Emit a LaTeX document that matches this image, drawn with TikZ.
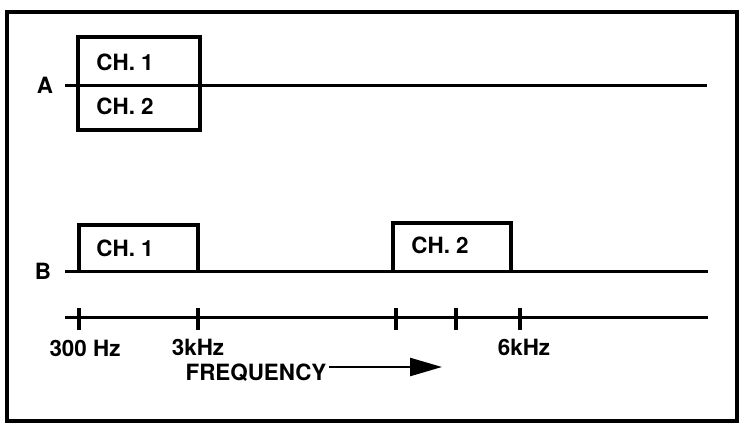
\documentclass[tikz,border=0pt]{standalone}
\usepackage{fontspec}
\setmainfont{TeX Gyre Heros}
\usepackage{tikz}
\usetikzlibrary{arrows.meta,positioning}
\tikzset{
  lbl/.style={font=\fontsize{11.2}{13}\selectfont\bfseries, inner sep=1pt},
  band/.style={draw, line width=1.6pt},
  rail/.style={draw, line width=1.5pt},
  tick/.style={line width=1.6pt},
  farrow/.style={line width=1.3pt, -{Triangle[length=16pt, width=9pt]}}
}
\begin{document}
\begin{tikzpicture}[x=0.5pt, y=-0.5pt]
\useasboundingbox (0,0) rectangle (743,428);
\draw[line width=2.4pt] (7,12) rectangle (737,421);
% line A with both channels stacked
\node[lbl] (labA) at (45,85) {A};
\coordinate (endA) at (707,85);
\draw[band] (78,37) rectangle (200,130);
\draw[rail] (65,85) -- (endA);
\node[lbl] (chAa) at (125,62) {CH. 1};
\node[lbl] (chAb) at (125,106) {CH. 2};
% line B with channels side by side
\node[lbl] (labB) at (43,271) {B};
\coordinate (endB) at (708,271);
\draw[band] (79,271) |- (198,225) -- (198,271);
\draw[band] (393,271) |- (511,223) -- (511,271);
\draw[rail] (65,271) -- (endB);
\node[lbl] (chBa) at (125,248) {CH. 1};
\node[lbl] (chBb) at (440,245) {CH. 2};
% frequency axis
\coordinate (ax0) at (65,317);
\coordinate (ax1) at (708,317);
\draw[rail] (ax0) -- (ax1);
\foreach \tx in {79,198,396,456,520}
  \draw[tick] (\tx,308) -- (\tx,330);
\node[lbl] (f300) at (85,348) {300 Hz};
\node[lbl] (f3k) at (198,347) {3kHz};
\node[lbl] (f6k) at (524,347) {6kHz};
\node[lbl] (freq) at (256,373) {FREQUENCY};
\coordinate (arrE) at (442,367);
\draw[farrow] (freq.east |- arrE) -- (arrE);
\end{tikzpicture}
\end{document}
